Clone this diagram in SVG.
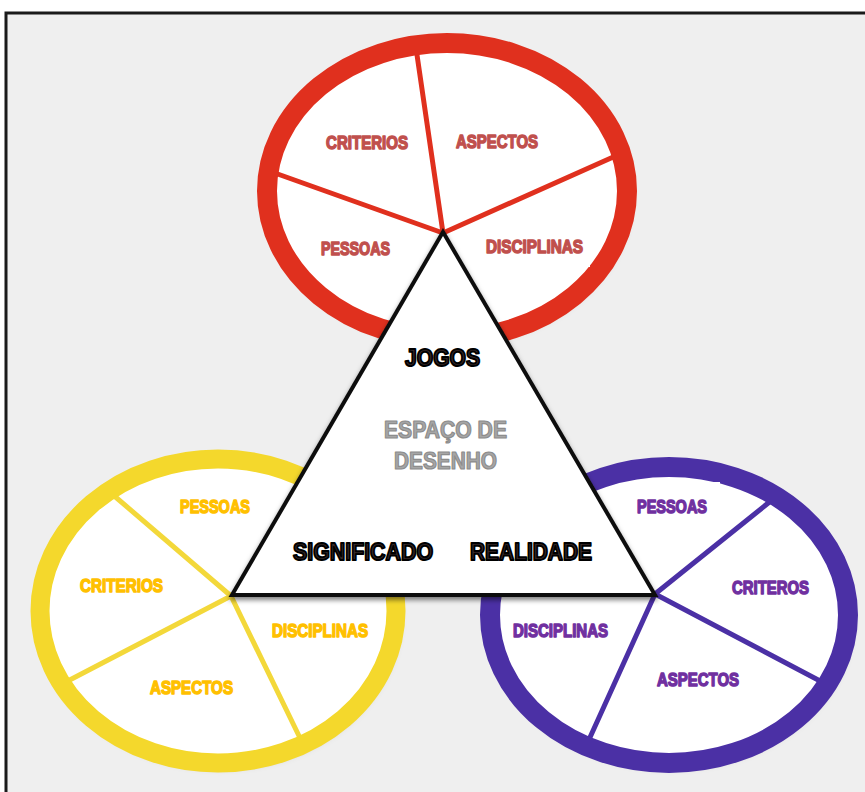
<svg xmlns="http://www.w3.org/2000/svg" width="865" height="792" viewBox="0 0 865 792">
<defs>
<filter id="sh" x="-20%" y="-20%" width="140%" height="140%">
<feDropShadow dx="2" dy="3" stdDeviation="4" flood-color="#000" flood-opacity="0.35"/>
</filter>
<filter id="tsh" x="-10%" y="-10%" width="120%" height="130%">
<feDropShadow dx="0" dy="3" stdDeviation="2.5" flood-color="#000" flood-opacity="0.5"/>
</filter>
<style>
.lab{font-family:"Liberation Sans",Arial,sans-serif;font-weight:bold;font-size:19px;stroke-width:1.5;stroke-linejoin:round;}
.red{fill:#c0504d;stroke:#c0504d;}
.yel{fill:#ffc000;stroke:#ffc000;}
.pur{fill:#7030a0;stroke:#7030a0;}
.tri{font-family:"Liberation Sans",Arial,sans-serif;font-weight:bold;font-size:24px;fill:#3a2a2a;stroke:#000;stroke-width:2;stroke-linejoin:round;}
.mid{font-family:"Liberation Sans",Arial,sans-serif;font-weight:bold;font-size:23px;fill:#a6a6a6;stroke:#8c8c8c;stroke-width:1.2;stroke-linejoin:round;}
.bg{fill:#fff;}
</style>
</defs>
<rect x="0" y="0" width="865" height="792" fill="#fff"/>
<rect x="6" y="13" width="900" height="800" fill="#efefef" stroke="#1a1a1a" stroke-width="3"/>

<g id="red-circle">
<ellipse cx="447" cy="191" rx="180" ry="148" fill="#fff" filter="url(#sh)"/>
<g stroke="#e0301e" stroke-width="5" stroke-linecap="round">
<line x1="443" y1="233" x2="416" y2="48"/>
<line x1="443" y1="233" x2="272" y2="172"/>
<line x1="443" y1="233" x2="620" y2="154"/>
</g>
<ellipse cx="447" cy="191" rx="180" ry="148" fill="none" stroke="#e0301e" stroke-width="20"/>
<rect class="bg" x="322" y="121" width="88" height="42"/>
<rect class="bg" x="483" y="225" width="107" height="42"/>
<text class="lab red" x="326" y="149" textLength="82" lengthAdjust="spacingAndGlyphs">CRITERIOS</text>
<text class="lab red" x="456" y="148" textLength="82" lengthAdjust="spacingAndGlyphs">ASPECTOS</text>
<text class="lab red" x="321" y="255" textLength="69" lengthAdjust="spacingAndGlyphs">PESSOAS</text>
<text class="lab red" x="486" y="253" textLength="97" lengthAdjust="spacingAndGlyphs">DISCIPLINAS</text>
</g>

<g id="yellow-circle">
<ellipse cx="218" cy="611" rx="178" ry="152" fill="#fff" filter="url(#sh)"/>
<g stroke="#f3d83a" stroke-width="5" stroke-linecap="round">
<line x1="231" y1="596" x2="112" y2="494"/>
<line x1="231" y1="596" x2="62" y2="684"/>
<line x1="231" y1="596" x2="301" y2="740"/>
</g>
<ellipse cx="218" cy="611" rx="178" ry="152" fill="none" stroke="#f4d82c" stroke-width="19"/>
<rect class="bg" x="168" y="482" width="95" height="48"/>
<rect class="bg" x="268" y="608" width="108" height="45"/>
<text class="lab yel" x="180" y="513" textLength="70" lengthAdjust="spacingAndGlyphs">PESSOAS</text>
<text class="lab yel" x="80" y="592" textLength="83" lengthAdjust="spacingAndGlyphs">CRITERIOS</text>
<text class="lab yel" x="272" y="637" textLength="96" lengthAdjust="spacingAndGlyphs">DISCIPLINAS</text>
<text class="lab yel" x="150" y="694" textLength="83" lengthAdjust="spacingAndGlyphs">ASPECTOS</text>
</g>

<g id="purple-circle">
<ellipse cx="669" cy="615" rx="179" ry="148" fill="#fff" filter="url(#sh)"/>
<g stroke="#4b30a5" stroke-width="5" stroke-linecap="round">
<line x1="655" y1="594" x2="777" y2="496"/>
<line x1="655" y1="594" x2="822" y2="682"/>
<line x1="655" y1="594" x2="587" y2="744"/>
</g>
<ellipse cx="669" cy="615" rx="179" ry="148" fill="none" stroke="#4b30a5" stroke-width="20"/>
<rect class="bg" x="625" y="482" width="95" height="48"/>
<rect class="bg" x="509" y="608" width="113" height="44"/>
<text class="lab pur" x="637" y="513" textLength="70" lengthAdjust="spacingAndGlyphs">PESSOAS</text>
<text class="lab pur" x="732" y="594" textLength="77" lengthAdjust="spacingAndGlyphs">CRITEROS</text>
<text class="lab pur" x="513" y="637" textLength="95" lengthAdjust="spacingAndGlyphs">DISCIPLINAS</text>
<text class="lab pur" x="657" y="686" textLength="82" lengthAdjust="spacingAndGlyphs">ASPECTOS</text>
</g>

<g id="triangle">
<polygon points="443,232 232,595 655,595" fill="#fff" stroke="#111" stroke-width="4" stroke-linejoin="miter" filter="url(#tsh)"/>
<text class="tri" x="405" y="366" textLength="75" lengthAdjust="spacingAndGlyphs">JOGOS</text>
<text class="mid" x="384" y="438" textLength="123" lengthAdjust="spacingAndGlyphs">ESPAÇO DE</text>
<text class="mid" x="394" y="469" textLength="103" lengthAdjust="spacingAndGlyphs">DESENHO</text>
<text class="tri" x="293" y="560" textLength="140" lengthAdjust="spacingAndGlyphs">SIGNIFICADO</text>
<text class="tri" x="470" y="560" textLength="122" lengthAdjust="spacingAndGlyphs">REALIDADE</text>
</g>
</svg>
